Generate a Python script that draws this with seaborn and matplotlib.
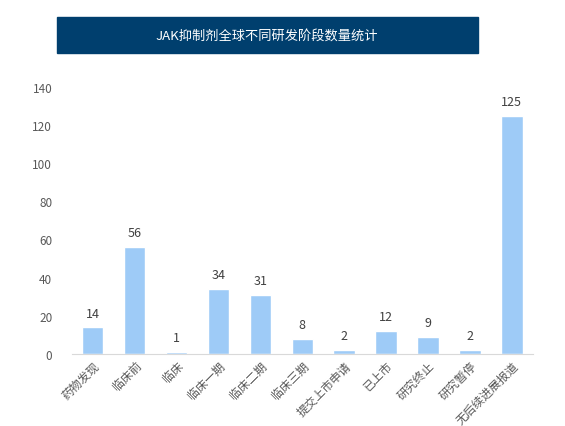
import matplotlib
matplotlib.use("Agg")
import matplotlib.pyplot as plt
import pandas as pd
import seaborn as sns

stages = ["药物发现", "临床前", "临床", "临床一期", "临床二期", "临床三期",
          "提交上市申请", "已上市", "研究终止", "研究暂停", "无后续进展报道"]
counts = [14, 56, 1, 34, 31, 8, 2, 12, 9, 2, 125]
title = "JAK抑制剂全球不同研发阶段数量统计"

sns.set_style("white")
plt.rcParams["font.family"] = ["Noto Sans CJK SC", "DejaVu Sans"]

df = pd.DataFrame({"stage": stages, "count": counts})

fig = plt.figure(figsize=(5.65, 4.27), dpi=100)
ax = fig.add_axes([0.127, 0.169, 0.816, 0.625])
sns.barplot(data=df, x="stage", y="count", color="#9ECBF7", width=0.51,
            saturation=1, ax=ax)

ax.set_ylim(0, 140)
ax.set_xlim(-0.5, len(stages) - 0.5)
ax.set_yticks(range(0, 141, 20))
ax.set_xlabel("")
ax.set_ylabel("")
for s in ["top", "right", "left"]:
    ax.spines[s].set_visible(False)
ax.spines["bottom"].set_color("#D9D9D9")
ax.tick_params(axis="both", length=0, labelsize=8.5, labelcolor="#595959")
ax.tick_params(axis="y", pad=14)
plt.setp(ax.get_xticklabels(), rotation=45, ha="right", rotation_mode="anchor")

for i, v in enumerate(counts):
    ax.text(i, v + 4, str(v), ha="center", va="bottom", fontsize=9,
            color="#404040")

# title banner
fig.patches.append(plt.Rectangle((57 / 565, 1 - 54 / 427), 421 / 565, 36 / 427,
                                 transform=fig.transFigure, color="#003F6E"))
fig.text(267 / 565, 1 - 36 / 427, title, ha="center", va="center",
         color="white", fontsize=9.5)

fig.savefig("out.png", dpi=100)
